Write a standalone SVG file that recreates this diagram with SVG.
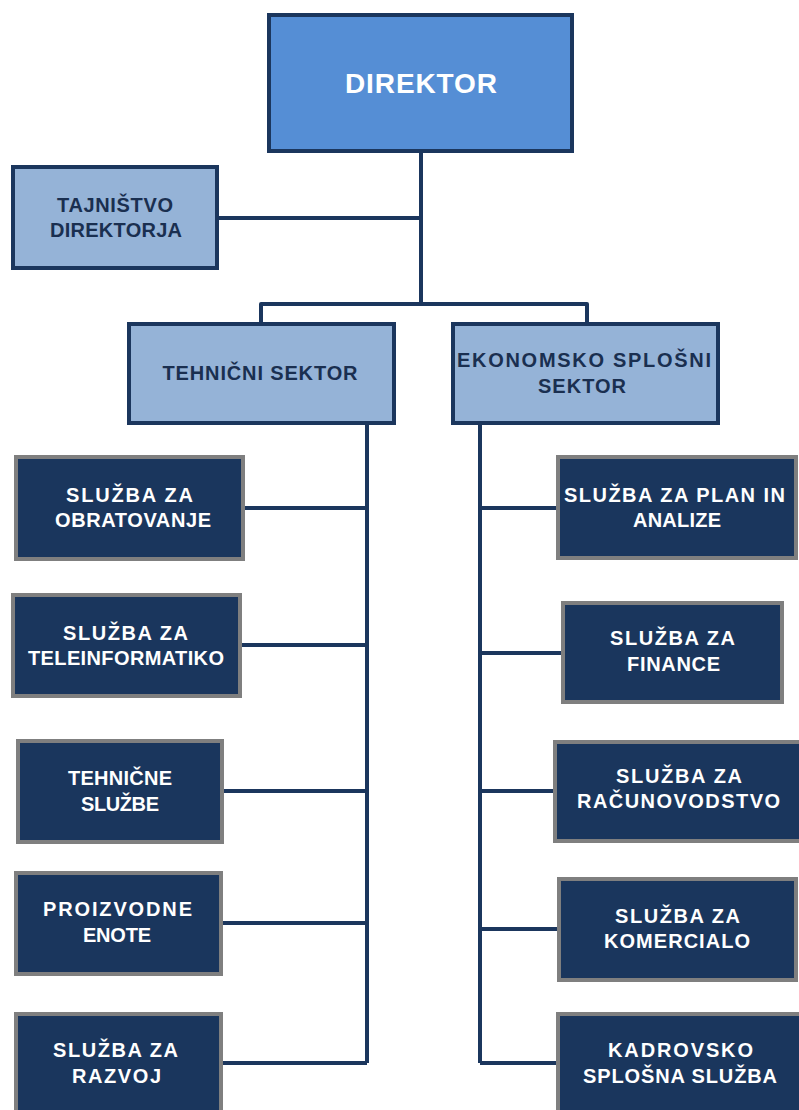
<svg xmlns="http://www.w3.org/2000/svg" width="799" height="1110" viewBox="0 0 799 1110">
  <style>
    .t { font-family: "Liberation Sans", Arial, sans-serif; font-weight: bold; font-size: 20px; text-anchor: middle; }
    .w { fill: #ffffff; }
    .d { fill: #1a2f50; }
    .big { font-size: 28px; }
    .dir { fill: #558ed5; stroke: #1b365d; stroke-width: 4; }
    .sec { fill: #95b3d7; stroke: #1b365d; stroke-width: 4; }
    .svc { fill: #1a365d; stroke: #7f7f7f; stroke-width: 4; }
    .conn { fill: none; stroke: #1b365d; stroke-width: 4; stroke-linejoin: round; }
  </style>
  <rect width="799" height="1110" fill="#ffffff"/>

  <g id="connectors" class="conn">
    <path d="M421 153 V304"/>
    <path d="M219 218 H421"/>
    <path d="M261 322 V304 H587 V322"/>
    <path d="M367 425 V1063"/>
    <path d="M245 508 H367"/>
    <path d="M242 645 H367"/>
    <path d="M224 791 H367"/>
    <path d="M223 923 H367"/>
    <path d="M223 1063 H367"/>
    <path d="M480 425 V1063"/>
    <path d="M480 508 H556"/>
    <path d="M480 653 H561"/>
    <path d="M480 791 H553"/>
    <path d="M480 929 H557"/>
    <path d="M480 1063 H556"/>
  </g>

  <g id="direktor">
    <rect class="dir" x="269" y="15" width="303" height="136"/>
    <text class="t w big" x="421" y="93" textLength="152" lengthAdjust="spacing">DIREKTOR</text>
  </g>

  <g id="tajnistvo">
    <rect class="sec" x="13" y="167" width="204" height="101"/>
    <text class="t d" x="115" y="212" textLength="116" lengthAdjust="spacing">TAJNIŠTVO</text>
    <text class="t d" x="116" y="237" textLength="132" lengthAdjust="spacing">DIREKTORJA</text>
  </g>

  <g id="tehnicni-sektor">
    <rect class="sec" x="129" y="324" width="265" height="99"/>
    <text class="t d" x="260" y="380" textLength="195" lengthAdjust="spacing">TEHNIČNI  SEKTOR</text>
  </g>

  <g id="ekonomsko-sektor">
    <rect class="sec" x="453" y="324" width="265" height="99"/>
    <text class="t d" x="584" y="367" textLength="254" lengthAdjust="spacing">EKONOMSKO SPLOŠNI</text>
    <text class="t d" x="582" y="393" textLength="88" lengthAdjust="spacing">SEKTOR</text>
  </g>

  <g id="obratovanje">
    <rect class="svc" x="16" y="457" width="227" height="102"/>
    <text class="t w" x="129.5" y="502" textLength="127" lengthAdjust="spacing">SLUŽBA  ZA</text>
    <text class="t w" x="133" y="527" textLength="156" lengthAdjust="spacing">OBRATOVANJE</text>
  </g>

  <g id="teleinformatiko">
    <rect class="svc" x="13" y="595" width="227" height="101"/>
    <text class="t w" x="125.5" y="640" textLength="125" lengthAdjust="spacing">SLUŽBA  ZA</text>
    <text class="t w" x="126" y="665" textLength="196" lengthAdjust="spacing">TELEINFORMATIKO</text>
  </g>

  <g id="tehnicne-sluzbe">
    <rect class="svc" x="18" y="741" width="204" height="101"/>
    <text class="t w" x="120" y="785" textLength="104" lengthAdjust="spacing">TEHNIČNE</text>
    <text class="t w" x="120" y="811" textLength="78" lengthAdjust="spacing">SLUŽBE</text>
  </g>

  <g id="proizvodne-enote">
    <rect class="svc" x="16" y="873" width="205" height="101"/>
    <text class="t w" x="117.5" y="916" textLength="149" lengthAdjust="spacing">PROIZVODNE</text>
    <text class="t w" x="117" y="942" textLength="68" lengthAdjust="spacing">ENOTE</text>
  </g>

  <g id="razvoj">
    <rect class="svc" x="16" y="1014" width="205" height="101"/>
    <text class="t w" x="115.5" y="1057" textLength="125" lengthAdjust="spacing">SLUŽBA  ZA</text>
    <text class="t w" x="116.5" y="1083" textLength="89" lengthAdjust="spacing">RAZVOJ</text>
  </g>

  <g id="plan-analize">
    <rect class="svc" x="558" y="457" width="238" height="101"/>
    <text class="t w" x="674.5" y="502" textLength="221" lengthAdjust="spacing">SLUŽBA  ZA PLAN  IN</text>
    <text class="t w" x="677" y="527" textLength="88" lengthAdjust="spacing">ANALIZE</text>
  </g>

  <g id="finance">
    <rect class="svc" x="563" y="603" width="219" height="99"/>
    <text class="t w" x="672.5" y="645" textLength="125" lengthAdjust="spacing">SLUŽBA  ZA</text>
    <text class="t w" x="673.5" y="671" textLength="93" lengthAdjust="spacing">FINANCE</text>
  </g>

  <g id="racunovodstvo">
    <rect class="svc" x="555" y="742" width="250" height="99"/>
    <text class="t w" x="679" y="783" textLength="126" lengthAdjust="spacing">SLUŽBA  ZA</text>
    <text class="t w" x="678.5" y="808" textLength="203" lengthAdjust="spacing">RAČUNOVODSTVO</text>
  </g>

  <g id="komercialo">
    <rect class="svc" x="559" y="879" width="237" height="101"/>
    <text class="t w" x="677.5" y="923" textLength="125" lengthAdjust="spacing">SLUŽBA  ZA</text>
    <text class="t w" x="677" y="948" textLength="146" lengthAdjust="spacing">KOMERCIALO</text>
  </g>

  <g id="kadrovsko">
    <rect class="svc" x="558" y="1014" width="250" height="101"/>
    <text class="t w" x="680.5" y="1057" textLength="145" lengthAdjust="spacing">KADROVSKO</text>
    <text class="t w" x="680" y="1083" textLength="194" lengthAdjust="spacing">SPLOŠNA SLUŽBA</text>
  </g>
</svg>
